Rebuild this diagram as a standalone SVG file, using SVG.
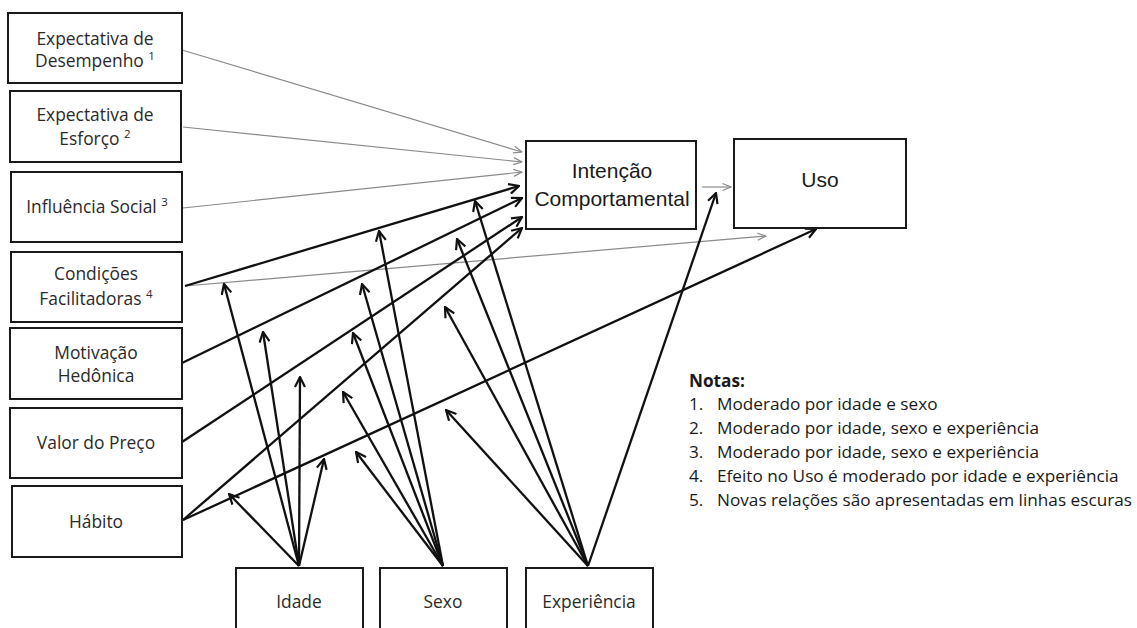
<svg xmlns="http://www.w3.org/2000/svg" width="1137" height="628" viewBox="0 0 1137 628">
<style>
.box{fill:#fff;stroke:#1a1a1a;stroke-width:2}
.t{font-family:"Open Sans","Noto Sans",sans-serif;font-size:17.4px;fill:#2a2a2a;text-anchor:middle}
.ta{font-family:"Liberation Sans",Arial,sans-serif;font-size:21px;fill:#1a1a1a;text-anchor:middle}
.n{font-family:"Open Sans","Noto Sans",sans-serif;font-size:17.2px;fill:#1a1a1a}
.g{stroke:#8a8a8a;stroke-width:1.2;fill:none;marker-end:url(#ag)}
.b{stroke:#111;stroke-width:2.3;fill:none;marker-end:url(#ab)}
</style>
<defs>
<marker id="ab" viewBox="0 0 12 12" refX="11" refY="6" markerWidth="12" markerHeight="12" markerUnits="userSpaceOnUse" orient="auto">
<path d="M1,1 L11,6 L1,11" fill="none" stroke="#111" stroke-width="2.2"/>
</marker>
<marker id="ag" viewBox="0 0 10 10" refX="9.5" refY="5" markerWidth="10" markerHeight="10" markerUnits="userSpaceOnUse" orient="auto">
<path d="M1,1.5 L9.5,5 L1,8.5" fill="none" stroke="#8a8a8a" stroke-width="1.2"/>
</marker>
</defs>

<g id="connectors">
<line class="g" x1="182" y1="50" x2="522" y2="152"/>
<line class="g" x1="183" y1="127" x2="522" y2="162"/>
<line class="g" x1="183" y1="208" x2="522" y2="172"/>
<line class="g" x1="185" y1="286" x2="766" y2="236"/>
<line class="g" x1="702" y1="187" x2="731" y2="187"/>
<line class="b" x1="185" y1="286" x2="519" y2="186"/>
<line class="b" x1="182" y1="363" x2="522" y2="198"/>
<line class="b" x1="182" y1="442" x2="522" y2="217"/>
<line class="b" x1="183" y1="520" x2="522" y2="228"/>
<line class="b" x1="183" y1="520" x2="816" y2="229"/>
<line class="b" x1="299" y1="566" x2="224" y2="284"/>
<line class="b" x1="299" y1="566" x2="263" y2="332"/>
<line class="b" x1="299" y1="566" x2="300" y2="377"/>
<line class="b" x1="299" y1="566" x2="324" y2="459"/>
<line class="b" x1="299" y1="566" x2="229" y2="494"/>
<line class="b" x1="443" y1="566" x2="379" y2="231"/>
<line class="b" x1="443" y1="566" x2="362" y2="284"/>
<line class="b" x1="443" y1="566" x2="353" y2="333"/>
<line class="b" x1="443" y1="566" x2="343" y2="392"/>
<line class="b" x1="443" y1="566" x2="356" y2="452"/>
<line class="b" x1="588" y1="566" x2="475" y2="201"/>
<line class="b" x1="588" y1="566" x2="457" y2="239"/>
<line class="b" x1="588" y1="566" x2="445" y2="307"/>
<line class="b" x1="588" y1="566" x2="446" y2="410"/>
<line class="b" x1="588" y1="566" x2="716" y2="193"/>
</g>

<g id="desempenho">
<rect class="box" x="8" y="13" width="174" height="70"/>
<text class="t" x="95" y="45">Expectativa de</text>
<text class="t" x="95" y="67">Desempenho <tspan font-size="11.5" dy="-7">1</tspan></text>
</g>
<g id="esforco">
<rect class="box" x="10" y="91" width="171" height="71"/>
<text class="t" x="95" y="121">Expectativa de</text>
<text class="t" x="95" y="145">Esforço <tspan font-size="11.5" dy="-7">2</tspan></text>
</g>
<g id="influencia">
<rect class="box" x="11" y="172" width="171" height="70"/>
<text class="t" x="97" y="213">Influência Social <tspan font-size="11.5" dy="-7">3</tspan></text>
</g>
<g id="condicoes">
<rect class="box" x="11" y="252" width="171" height="70"/>
<text class="t" x="96" y="280">Condições</text>
<text class="t" x="96" y="305">Facilitadoras <tspan font-size="11.5" dy="-7">4</tspan></text>
</g>
<g id="motivacao">
<rect class="box" x="10" y="328" width="172" height="71"/>
<text class="t" x="96" y="359">Motivação</text>
<text class="t" x="96" y="382">Hedônica</text>
</g>
<g id="valor">
<rect class="box" x="10" y="408" width="172" height="70"/>
<text class="t" x="96" y="449">Valor do Preço</text>
</g>
<g id="habito">
<rect class="box" x="12" y="486" width="170" height="71"/>
<text class="t" x="96" y="528">Hábito</text>
</g>
<g id="intencao">
<rect class="box" x="526" y="141" width="170" height="88"/>
<text class="ta" x="612" y="178">Intenção</text>
<text class="ta" x="612" y="206">Comportamental</text>
</g>
<g id="uso">
<rect class="box" x="734" y="139" width="172" height="89"/>
<text class="ta" x="820" y="187">Uso</text>
</g>
<g id="idade">
<rect class="box" x="236" y="568" width="127" height="80"/>
<text class="t" x="299" y="608">Idade</text>
</g>
<g id="sexo">
<rect class="box" x="380" y="568" width="127" height="80"/>
<text class="t" x="443" y="608">Sexo</text>
</g>
<g id="experiencia">
<rect class="box" x="526" y="568" width="127" height="80"/>
<text class="t" x="589" y="608">Experiência</text>
</g>

<g id="notas">
<text class="n" x="689" y="387" font-weight="bold">Notas:</text>
<text class="n" x="689" y="410">1.</text><text class="n" x="717" y="410">Moderado por idade e sexo</text>
<text class="n" x="689" y="434">2.</text><text class="n" x="717" y="434">Moderado por idade, sexo e experiência</text>
<text class="n" x="689" y="458">3.</text><text class="n" x="717" y="458">Moderado por idade, sexo e experiência</text>
<text class="n" x="689" y="482">4.</text><text class="n" x="717" y="482">Efeito no Uso é moderado por idade e experiência</text>
<text class="n" x="689" y="506">5.</text><text class="n" x="717" y="506">Novas relações são apresentadas em linhas escuras</text>
</g>
</svg>
